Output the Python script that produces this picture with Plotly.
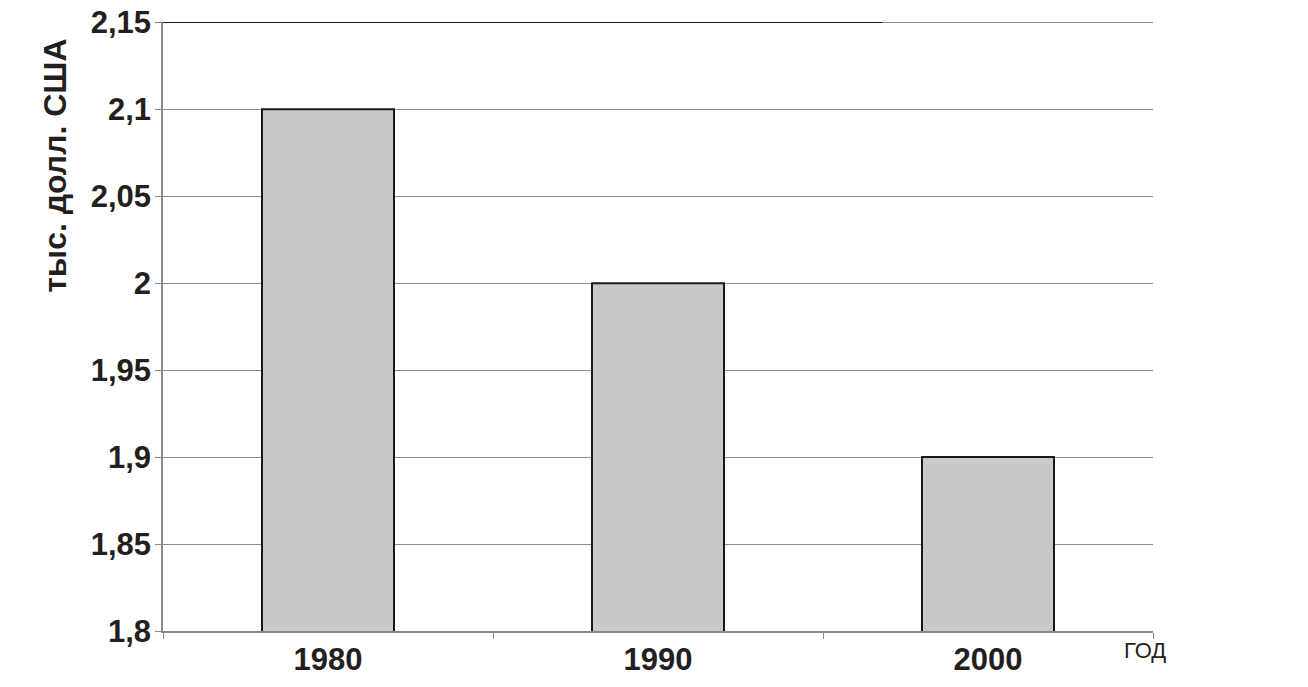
import plotly.graph_objects as go

years = ["1980", "1990", "2000"]
values = [2.1, 2.0, 1.9]
y_ticks = [1.8, 1.85, 1.9, 1.95, 2.0, 2.05, 2.1, 2.15]
y_tick_labels = ["1,8", "1,85", "1,9", "1,95", "2", "2,05", "2,1", "2,15"]
y_max = y_ticks[-1]

fig = go.Figure()
fig.add_trace(go.Bar(
    x=years, y=values, width=0.4,
    marker=dict(color="#c8c9cb", line=dict(color="#1a1a1a", width=2)),
))

fig.update_layout(
    width=1308, height=687,
    margin=dict(l=163, r=155, t=22, b=56),
    plot_bgcolor="white", paper_bgcolor="white",
    showlegend=False,
    font=dict(family="Liberation Sans, Arial, sans-serif", color="#231f20"),
    bargap=0.6,
)
fig.update_xaxes(
    type="category", range=[-0.5, 2.5], automargin=False,
    tickson="boundaries", ticks="outside", ticklen=6, tickcolor="#888",
    showline=True, linecolor="#888", linewidth=1.5,
    showgrid=False,
    tickfont=dict(size=31, family="Liberation Sans, Arial, sans-serif", weight="bold"),
)
fig.update_yaxes(
    range=[1.8, 2.1502], tickvals=y_ticks, ticktext=y_tick_labels, automargin=False,
    ticks="outside", ticklen=6, tickcolor="#888", ticklabelstandoff=-2,
    ticklabeloverflow="allow",
    showline=True, linecolor="#888", linewidth=1.5,
    showgrid=True, gridcolor="#8c8c8c", gridwidth=1,
    zeroline=False,
    tickfont=dict(size=31, family="Liberation Sans, Arial, sans-serif", weight="bold"),
)
# top border line (dark on the left part, gray on the right, as in the source)
fig.add_shape(type="line", xref="paper", yref="y", x0=0, x1=0.727, y0=y_max, y1=y_max,
              line=dict(color="#1a1a1a", width=1.5), layer="above")
fig.add_shape(type="line", xref="paper", yref="y", x0=0.727, x1=1, y0=y_max, y1=y_max,
              line=dict(color="#8c8c8c", width=1.5), layer="above")
fig.add_annotation(
    text="<b>тыс. долл. США</b>", textangle=-90,
    xref="paper", yref="paper", x=-0.109, y=0.764,
    xanchor="center", yanchor="middle", showarrow=False,
    font=dict(size=32, family="Liberation Sans, Arial, sans-serif", color="#231f20"),
)
fig.add_annotation(
    text="ГОД",
    xref="paper", yref="paper", x=0.992, y=-0.008,
    xanchor="center", yanchor="top", showarrow=False,
    font=dict(size=22, family="Liberation Sans, Arial, sans-serif", color="#231f20"),
)

fig.write_html("out.html", config={"displayModeBar": False},
               post_script="document.body.style.margin='0';")
